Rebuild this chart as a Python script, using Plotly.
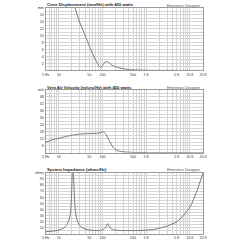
import plotly.graph_objects as go

# ---------------- data ----------------
disp_freq = [18, 20, 23, 27, 32, 36, 40, 46, 52, 59, 67, 77, 85, 90, 95, 105, 115, 125, 135, 150, 170, 195, 250, 300, 400, 500, 1000, 20000]
disp_mm   = [28, 23, 18.5, 15.5, 13, 11.5, 10, 8.2, 6.4, 4.9, 3.4, 2.0, 1.1, 0.85, 1.0, 1.8, 2.4, 2.6, 2.4, 1.9, 1.4, 1.1, 0.7, 0.5, 0.25, 0.15, 0.05, 0.0]

vent_freq = [5, 7, 10, 15, 20, 30, 50, 80, 95, 105, 112, 122, 135, 150, 165, 180, 200, 230, 300, 500, 1000, 20000]
vent_ms   = [8.8, 11, 12.5, 14, 15, 16, 16.5, 16.8, 17.5, 18, 17.3, 15.5, 12, 9, 6, 4, 2.5, 1.5, 0.8, 0.3, 0.1, 0.0]

imp_freq = [5, 7, 10, 13, 15, 17, 18.5, 19.5, 20.3, 21, 21.8, 22.8, 24, 26, 30, 35, 40, 50, 60, 75, 90, 105, 118, 126, 131, 137, 145, 160, 180, 220, 300, 500, 800, 1000, 1500, 2000, 3000, 5000, 7000, 10000, 14000, 17000, 20000]
imp_ohm  = [3.6, 4.5, 6.3, 10, 14, 22, 35, 60, 95, 110, 95, 60, 38, 24, 14, 10, 8, 6.5, 5.8, 5.5, 5.8, 7.5, 11, 15, 17, 15, 11, 8, 6.8, 6.0, 5.6, 5.5, 5.8, 6.2, 7.5, 9.5, 13, 20, 30, 44, 68, 85, 100]

x_tick_vals = [5, 10, 50, 100, 500, 1000, 5000, 10000, 20000]
x_tick_text = ["5 Hz", "10", "50", "100", "500", "1 K", "5 K", "10 K", "20 K"]
x_grid_vals = [5, 6, 7, 8, 9, 10, 20, 30, 40, 50, 60, 70, 80, 90, 100, 200, 300, 400, 500, 600, 700, 800, 900,
               1000, 2000, 3000, 4000, 5000, 6000, 7000, 8000, 9000, 10000, 20000]

titles = ["Cone Displacement (mm/Hz) with 450 watts",
          "Vent Air Velocity (m/sec/Hz) with 450 watts",
          "System Impedance (ohms/Hz)"]
brand = "Eminence Designer"

disp_ticks = [2, 4, 6, 8, 10, 12, 14, 16, 18]
disp_text = ["2", "4", "6", "8", "10", "12", "14", "16", "mm"]
vent_ticks = [6, 12, 18, 24, 30, 36, 42, 48, 54]
vent_text = ["6", "12", "18", "24", "30", "36", "42", "48", "m/s"]
imp_ticks = [10, 20, 30, 40, 50, 60, 70, 80, 90, 100]
imp_text = ["10", "20", "30", "40", "50", "60", "70", "80", "90", "ohms"]

# ---------------- figure ----------------
FONT = "Arial, Liberation Sans, sans-serif"
LINE = "#7a7a7a"
GRID = "#d4d4d4"
FRAME = "#9a9a9a"

fig = go.Figure()
series = [(disp_freq, disp_mm, "x", "y"),
          (vent_freq, vent_ms, "x2", "y2"),
          (imp_freq, imp_ohm, "x3", "y3")]
for fx, fy, xa, ya in series:
    fig.add_trace(go.Scatter(x=fx, y=fy, xaxis=xa, yaxis=ya, mode="lines",
                             line=dict(color=LINE, width=1, shape="spline", smoothing=0.8),
                             showlegend=False, hoverinfo="skip"))

W = 240.0
x_dom = [43 / W, 206 / W]
panels = [  # (top px, bottom px, yrange, ticks, text, minor dtick)
    (5.6, 69.0, [0, 18], disp_ticks, disp_text, 1),
    (88.6, 152.0, [0, 54], vent_ticks, vent_text, 3),
    (172.3, 233.9, [0, 100], imp_ticks, imp_text, 5),
]

import math
lay = {}
for i, (top, bot, yr, tv, tt, mdt) in enumerate(panels):
    sfx = "" if i == 0 else str(i + 1)
    lay["xaxis" + sfx] = dict(
        type="log", domain=x_dom, range=[math.log10(5), math.log10(20000)],
        anchor="y" + sfx, tickmode="array",
        tickvals=x_grid_vals,
        ticktext=[x_tick_text[x_tick_vals.index(v)] if v in x_tick_vals else "" for v in x_grid_vals],
        showgrid=True, gridcolor=GRID, gridwidth=1,
        showline=True, linecolor=FRAME, linewidth=1, mirror=True,
        ticks="", tickfont=dict(family=FONT, size=3.6, color="#333"),
        zeroline=False, fixedrange=True,
    )
    lay["yaxis" + sfx] = dict(
        domain=[1 - bot / W, 1 - top / W], range=yr, anchor="x" + sfx,
        tickmode="array", tickvals=tv, ticktext=tt,
        showgrid=True, gridcolor=GRID, gridwidth=1,
        minor=dict(dtick=mdt, tick0=0, showgrid=True, gridcolor=GRID, gridwidth=1),
        showline=True, linecolor=FRAME, linewidth=1, mirror=True,
        ticks="", tickfont=dict(family=FONT, size=3.6, color="#333"),
        zeroline=False, fixedrange=True,
    )

title_y = [3.0, 86.0, 168.5]
annotations = []
for t, ty in zip(titles, title_y):
    annotations.append(dict(text="<b>" + t + "</b>", xref="paper", yref="paper",
                            x=42 / W, y=1 - ty / W, xanchor="left", yanchor="middle",
                            showarrow=False, font=dict(family=FONT, size=4.2, color="#222")))
    annotations.append(dict(text=brand, xref="paper", yref="paper",
                            x=206 / W, y=1 - (ty + 0.8) / W, xanchor="right", yanchor="middle",
                            showarrow=False, font=dict(family=FONT, size=3.8, color="#555")))

fig.update_layout(width=240, height=240, margin=dict(l=0, r=0, t=0, b=0),
                  paper_bgcolor="white", plot_bgcolor="white",
                  annotations=annotations, **lay)

fig.write_html("out.html")
